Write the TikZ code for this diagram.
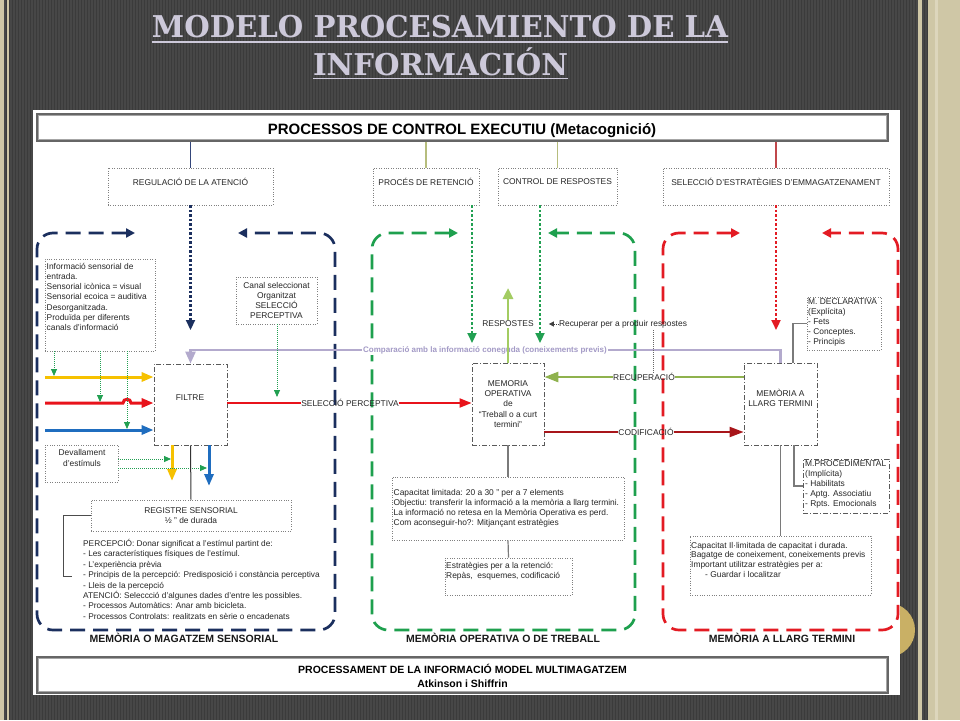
\documentclass[tikz,border=0pt]{standalone}
\usepackage{fontspec}
\setmainfont{Liberation Sans}
\newfontfamily\titlefont{DejaVu Serif}
\usetikzlibrary{arrows.meta}
\definecolor{bgA}{HTML}{474747}
\definecolor{bgB}{HTML}{3B3B3B}
\definecolor{beige}{HTML}{CFC7A6}
\definecolor{beigeL}{HTML}{DDD6BC}
\definecolor{goldc}{HTML}{C9B065}
\definecolor{ttl}{HTML}{CDC9DA}
\definecolor{navy}{HTML}{1B2F5E}
\definecolor{frgreen}{HTML}{1EA04E}
\definecolor{frred}{HTML}{E31B23}
\definecolor{ylw}{HTML}{F6C100}
\definecolor{rd}{HTML}{E8131B}
\definecolor{bl}{HTML}{1F6DBF}
\definecolor{lav}{HTML}{B3AACD}
\definecolor{lavtxt}{HTML}{A39AC6}
\definecolor{olv}{HTML}{8FB24E}
\definecolor{lgr}{HTML}{A3CC62}
\definecolor{dred}{HTML}{A8151A}
\definecolor{cgray}{HTML}{7A7A7A}
\definecolor{hblue}{HTML}{34467A}
\definecolor{holive}{HTML}{B6BD7D}
\definecolor{hred}{HTML}{C0474B}
\definecolor{dgreen}{HTML}{22A052}
\tikzset{
  dotbox/.style={draw=black!50, dash pattern=on 0.8pt off 1.6pt, line width=0.7pt, inner sep=0pt},
  ddbox/.style={draw=black!65, line width=0.8pt, dash pattern=on 5pt off 2pt on 1pt off 2pt, inner sep=0pt},
  tx/.style={font=\fontsize{8.4}{10.2}\selectfont, text=black!85, inner sep=0pt},
  lbl/.style={font=\bfseries\fontsize{10.5}{12}\selectfont, text=black!90, inner sep=0pt},
  hdrbox/.style={draw=black!60, line width=1.4pt, inner sep=0pt},
  hdrin/.style={draw=black!35, line width=0.6pt},
  ttlfont/.style={font={\titlefont\bfseries\fontsize{30}{30}\selectfont}, text=ttl, inner sep=0pt, anchor=base},
  frame/.style={line width=2.7pt, dash pattern=on 15pt off 8pt, rounded corners=16pt, {Triangle[length=9pt,width=9pt]}-{Triangle[length=9pt,width=9pt]}},
  bigdot/.style={line width=2.2pt, dash pattern=on 2.5pt off 2pt, -{Triangle[length=10pt,width=9pt]}},
  smalldot/.style={draw=dgreen, line width=0.8pt, dash pattern=on 1pt off 1pt, -{Triangle[length=7pt,width=6pt]}},
  flow/.style={line width=3pt, -{Triangle[length=12pt,width=9pt]}},
  conn/.style={draw=cgray, line width=1.2pt},
}
\begin{document}
\begin{tikzpicture}[x=1pt,y=-1pt]
\useasboundingbox (0,0) rectangle (960,720);
% background
\fill[bgA] (0,0) rectangle (960,720);
\foreach \i in {0,3,...,957} {\fill[bgB] (\i,0) rectangle ++(1.3,720);}
\fill[beige] (0,0) rectangle (4,720);
\fill[beige] (7,0) rectangle (8.5,720);
\fill[beige] (918,0) rectangle (922,720);
\fill[beige] (928,0) rectangle (960,720);
\fill[beigeL] (935,0) rectangle (938,720);
\fill[goldc] (888,630) circle (27pt);
\fill[white] (33,110) rectangle (900,695);

% title
\node[ttlfont] (t1) at (440,37) {\resizebox{576pt}{\height}{MODELO PROCESAMIENTO DE LA}};
\node[ttlfont] (t2) at (440.5,75) {\resizebox{255pt}{\height}{INFORMACIÓN}};
\draw[ttl, line width=1.8pt] ([yshift=-5pt]t1.base west) -- ([yshift=-5pt]t1.base east);
\draw[ttl, line width=1.8pt] ([yshift=-3.5pt]t2.base west) -- ([yshift=-3.5pt]t2.base east);

% header
\node[hdrbox, minimum width=851pt, minimum height=27pt] (hdr) at (462.5,127.5) {};
\draw[hdrin] ([shift={(2.2,2.2)}]hdr.north west) rectangle ([shift={(-2.2,-2.2)}]hdr.south east);
\node[font=\bfseries\fontsize{15}{15}\selectfont, inner sep=0pt] (hdrt) at (462,131) {PROCESSOS DE CONTROL EXECUTIU (Metacognició)};

% control boxes
\node[dotbox, minimum width=165pt, minimum height=37pt] (reg) at (190.5,186.5) {};
\node[tx] (regt) at ([yshift=5pt]reg.center) {REGULACIÓ DE LA ATENCIÓ};
\node[dotbox, minimum width=106pt, minimum height=37pt] (ret) at (426,186.5) {};
\node[tx] (rett) at ([yshift=5pt]ret.center) {PROCÉS DE RETENCIÓ};
\node[dotbox, minimum width=119pt, minimum height=37pt] (ctrl) at (557.5,186.5) {};
\node[tx] (ctrlt) at ([yshift=5pt]ctrl.center) {CONTROL DE RESPOSTES};
\node[dotbox, minimum width=226pt, minimum height=37pt] (sel) at (776,186.5) {};
\node[tx] (selt) at ([yshift=5pt]sel.center) {SELECCIÓ D'ESTRATÈGIES D'EMMAGATZENAMENT};

\draw[hblue, line width=1.2pt] (hdr.south -| reg.north) -- (reg.north);
\draw[holive, line width=1.2pt] (hdr.south -| ret.north) -- (ret.north);
\draw[holive, line width=1.2pt] (hdr.south -| ctrl.north) -- (ctrl.north);
\draw[hred, line width=1.2pt] (hdr.south -| sel.north) -- (sel.north);

% frames
\draw[frame, navy] (135,233) -- (37,233) -- (37,630) -- (335,630) -- (335,233) -- (238,233);
\draw[frame, frgreen] (458,233) -- (372,233) -- (372,630) -- (635,630) -- (635,233) -- (548,233);
\draw[frame, frred] (740,233) -- (663,233) -- (663,630) -- (898,630) -- (898,233) -- (822,233);
\node[lbl] (lab1) at (184,638) {MEMÒRIA O MAGATZEM SENSORIAL};
\node[lbl] (lab2) at (503,638) {MEMÒRIA OPERATIVA O DE TREBALL};
\node[lbl] (lab3) at (782,638) {MEMÒRIA A LLARG TERMINI};

% main boxes
\node[ddbox, minimum width=73pt, minimum height=81pt] (filtre) at (190.5,404.5) {};
\node[tx] (filtret) at (190,398) {FILTRE};
\node[ddbox, minimum width=72pt, minimum height=82pt] (mo) at (508,404) {};
\node[tx, align=center] (mot) at (mo.center) {MEMORIA\\OPERATIVA\\de\\“Treball o a curt\\termini”};
\node[ddbox, minimum width=73pt, minimum height=82pt] (mlt) at (780.5,404) {};
\node[tx, align=center] (mltt) at (780.5,398) {MEMÒRIA A\\LLARG TERMINI};

% big dotted arrows from control
\coordinate (bA) at (190.5,330);
\coordinate (gx1) at (472,343);
\coordinate (gx2) at (540,343);
\coordinate (rA) at (776,330);
\draw[bigdot, navy] (reg.south) -- (bA);
\draw[bigdot, dgreen] (ret.south -| gx1) -- (gx1);
\draw[bigdot, dgreen] (ctrl.south -| gx2) -- (gx2);
\draw[bigdot, frred] (sel.south) -- (rA);

% left column
\node[dotbox, minimum width=110pt, minimum height=92pt] (info) at (100,305) {};
\node[tx, anchor=north west, align=left] (infot) at (46.5,263) {Informació sensorial de\\entrada.\\Sensorial icònica = visual\\Sensorial ecoica = auditiva\\Desorganitzada.\\Produïda per diferents\\canals d'informació};
\coordinate (yin) at (45,377);
\coordinate (rin) at (45,403);
\coordinate (bin) at (45,430);
\draw[flow, ylw] (yin) -- (yin -| filtre.west);
\draw[flow, rd] (rin) -- (123,403) .. controls (123,398) and (131,398) .. (131,403) -- (rin -| filtre.west);
\draw[flow, bl] (bin) -- (bin -| filtre.west);
\coordinate (g1) at (54,376);
\coordinate (g2) at (100,402);
\coordinate (g3) at (127,429);
\draw[smalldot] (info.south -| g1) -- (g1);
\draw[smalldot] (info.south -| g2) -- (g2);
\draw[smalldot] (info.south -| g3) -- (g3);

\node[dotbox, minimum width=81pt, minimum height=47pt] (canal) at (276.5,300.5) {};
\node[tx, align=center] (canalt) at (canal.center) {Canal seleccionat\\Organitzat\\SELECCIÓ\\PERCEPTIVA};

% comparison line
\coordinate (lavy) at (0,350);
\draw[lav, line width=2.5pt, -{Triangle[length=12pt,width=10pt]}] (mlt.north) -- (mlt.north |- lavy) -- (filtre.north |- lavy) -- (filtre.north);
\node[font=\bfseries\fontsize{8}{10}\selectfont, text=lavtxt, fill=white, inner sep=1pt] (comp) at (485,350) {Comparació amb la informació coneguda (coneixements previs)};
\coordinate (g4) at (277,397);
\draw[smalldot] (canal.south -| g4) -- (g4);

% seleccio perceptiva
\node[tx] (selp) at (350,403) {SELECCIÓ PERCEPTIVA};
\draw[rd, line width=2pt] (filtre.east |- selp) -- (selp.west);
\draw[rd, line width=2pt, -{Triangle[length=12pt,width=9pt]}] (selp.east) -- (mo.west |- selp);

% below filtre
\node[dotbox, minimum width=73pt, minimum height=37pt] (dev) at (81.5,463.5) {};
\node[tx, align=center] (devt) at (82,458) {Devallament\\d'estímuls};
\coordinate (ydown) at (172,481);
\coordinate (bdown) at (209,486);
\draw[flow, ylw] (filtre.south -| ydown) -- (ydown);
\draw[flow, bl] (filtre.south -| bdown) -- (bdown);
\coordinate (d1) at (171,459);
\coordinate (d2) at (207,468);
\draw[smalldot] (dev.east |- d1) -- (d1);
\draw[smalldot] (dev.east |- d2) -- (d2);

\node[dotbox, minimum width=200pt, minimum height=31pt] (reg2) at (191,515.5) {};
\node[tx, align=center] (reg2t) at (reg2.center) {REGISTRE SENSORIAL\\½ " de durada};
\draw[black!80, line width=1pt] (filtre.south) -- (reg2.north);
\coordinate (brk) at (63,576);
\draw[black!70, line width=1pt] (reg2.west) -- (reg2.west -| brk) -- (brk) -- ++(9,0);
\node[tx, anchor=north west, align=left, font=\fontsize{8.3}{10.4}\selectfont] (perc) at (83,539) {PERCEPCIÓ: Donar significat a l'estímul partint de:\\- Les característiques físiques de l'estímul.\\- L'experiència prèvia\\- Principis de la percepció: Predisposició i constància perceptiva\\- Lleis de la percepció\\ATENCIÓ: Seleccció d'algunes dades d'entre les possibles.\\- Processos Automàtics: Anar amb bicicleta.\\- Processos Controlats: realitzats en sèrie o encadenats};

% middle
\coordinate (respup) at (508,288);
\draw[lgr, line width=2.6pt, -{Triangle[length=11pt,width=10pt]}] (mo.north) -- (respup);
\node[tx, fill=white, inner sep=1.5pt] (resp) at (508,324) {RESPOSTES};
\node[tx] (recp) at (623,324) {Recuperar per a produir respostes};
\draw[black!75, line width=0.6pt, dash pattern=on 1pt off 1pt, -{Triangle[length=5pt,width=5pt]}] (recp.west) -- ++(-10,0);
\node[tx] (recu) at (644,377) {RECUPERACIÓ};
\coordinate (vd) at (653,330);
\draw[black!60, line width=0.6pt, dash pattern=on 1pt off 1pt] (vd) -- (vd |- recu.north);
\draw[olv, line width=2.2pt] (mlt.west |- recu) -- (recu.east);
\draw[olv, line width=2.6pt, -{Triangle[length=14pt,width=10pt]}] (recu.west) -- (mo.east |- recu);
\node[tx] (codi) at (646,432) {CODIFICACIÓ};
\draw[dred, line width=2pt] (mo.east |- codi) -- (codi.west);
\draw[dred, line width=2pt, -{Triangle[length=14pt,width=10pt]}] (codi.east) -- (mlt.west |- codi);

\node[dotbox, minimum width=232pt, minimum height=63pt] (mob1) at (508,508.5) {};
\node[tx, anchor=north west, align=left] (mob1t) at (393.5,489) {Capacitat limitada: 20 a 30 " per a 7 elements\\Objectiu: transferir la informació a la memòria a llarg termini.\\La informació no retesa en la Memòria Operativa es perd.\\Com aconseguir-ho?: Mitjançant estratègies};
\draw[conn] (mo.south) -- (mob1.north);
\node[dotbox, minimum width=127pt, minimum height=37pt] (mob2) at (508.5,576.5) {};
\node[tx, anchor=north west, align=left] (mob2t) at (446,562) {Estratègies per a la retenció:\\Repàs,\ \ esquemes, codificació};
\draw[conn] (mob1.south) -- (mob2.north);

% right
\node[dotbox, minimum width=74pt, minimum height=53pt] (decl) at (844,323.5) {};
\node[tx, anchor=north west, align=left] (declt) at (808,298) {M. DECLARATIVA\\(Explícita)\\- Fets\\- Conceptes.\\- Principis};
\coordinate (dc) at (793,323.5);
\draw[conn] (mlt.north -| dc) -- (dc) -- (decl.west);
\node[ddbox, minimum width=86pt, minimum height=54pt] (proc) at (846,486) {};
\node[tx, anchor=north west, align=left] (proct) at (805,460) {M.PROCEDIMENTAL\\(Implícita)\\- Habilitats\\- Aptg. Associatiu\\- Rpts. Emocionals};
\coordinate (pc) at (794,486);
\draw[conn] (mlt.south -| pc) -- (pc) -- (proc.west);
\node[dotbox, minimum width=181pt, minimum height=59pt] (mltb) at (780.5,565.5) {};
\node[tx, anchor=north west, align=left, font=\fontsize{8.4}{9.7}\selectfont] (mltbt) at (691,542) {Capacitat Il·limitada de capacitat i durada.\\Bagatge de coneixement, coneixements previs\\Important utilitzar estratègies per a:\\\hspace*{14pt}- Guardar i localitzar};
\draw[conn] (mlt.south) -- (mltb.north);

% bottom box
\node[hdrbox, minimum width=851pt, minimum height=36pt] (bot) at (462.5,675) {};
\draw[hdrin] ([shift={(2.2,2.2)}]bot.north west) rectangle ([shift={(-2.2,-2.2)}]bot.south east);
\node[font=\bfseries\fontsize{10.5}{14}\selectfont, align=center, inner sep=0pt] (bott) at (462.5,676) {PROCESSAMENT DE LA INFORMACIÓ MODEL MULTIMAGATZEM\\Atkinson i Shiffrin};
\end{tikzpicture}
\end{document}
